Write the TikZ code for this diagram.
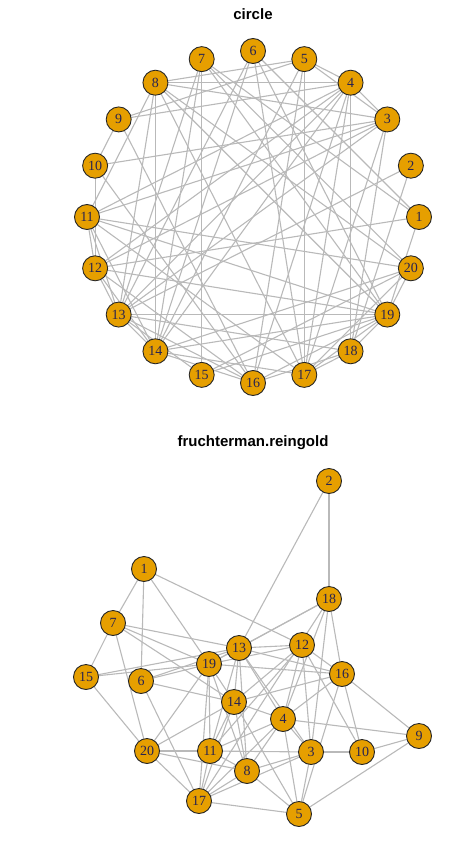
\documentclass[tikz,border=0pt]{standalone}
\usepackage{fontspec}
\setmainfont{Liberation Serif}
\newfontfamily\titlefont{Liberation Sans}
\usetikzlibrary{backgrounds}
\definecolor{vorange}{RGB}{230,159,0}
\definecolor{edgegray}{RGB}{185,185,185}
\definecolor{labelblue}{RGB}{40,35,80}
\begin{document}
\begin{tikzpicture}[x=1pt,y=-1pt,
  vtx/.style={circle,draw=black!85,line width=0.9pt,fill=vorange,minimum size=25pt,inner sep=0pt,
    font=\fontsize{14}{14}\selectfont,text=labelblue},
  edge/.style={draw=edgegray,line width=1.1pt},
  ttl/.style={font=\titlefont\bfseries\fontsize{15}{15}\selectfont,text=black}]
\useasboundingbox (0,0) rectangle (462,842);
\node[ttl] (t1) at (253,14) {circle};
\node[ttl] (t2) at (253,443) {fruchterman.reingold};
% circle layout
\foreach \i in {1,...,20} {
  \node[vtx] (c\i) at ({253+166*cos((\i-1)*18)},{217-166*sin((\i-1)*18)}) {\i};
}
% fruchterman-reingold layout
\foreach \i/\x/\y in {1/144/569,2/329/481,3/311/752,4/283/719,5/299/814,6/141/681,7/113/623,
  8/247/771,9/419/736,10/362/752,11/210/751,12/302/645,13/239/648,14/234/702,15/86/677,
  16/342/674,17/199/801,18/329/599,19/209/664,20/147/751} {
  \node[vtx] (f\i) at (\x,\y) {\i};
}
\begin{pgfonlayer}{background}
\foreach \a/\b in {1/7,1/6,1/19,1/12,
  2/18,2/13,
  18/13,18/19,18/4,18/3,18/16,18/17,
  7/15,7/20,7/13,7/19,7/14,
  15/19,15/13,15/20,
  6/19,6/13,6/14,6/17,
  12/13,12/19,12/16,12/14,12/4,12/11,12/10,12/3,
  13/19,13/14,13/11,13/8,13/4,13/16,13/3,
  19/16,19/11,19/14,19/20,19/8,19/17,
  16/14,16/9,16/10,16/4,16/5,
  14/4,14/11,14/8,14/17,14/5,14/20,
  4/9,4/3,4/5,4/11,4/17,4/8,
  9/10,9/5,
  20/11,20/17,20/8,
  11/8,11/17,11/3,
  3/10,3/5,3/8,3/17,
  8/17,8/5,
  17/5} {
  \draw[edge] (c\a.center) -- (c\b.center);
  \draw[edge] (f\a.center) -- (f\b.center);
}
\end{pgfonlayer}
\end{tikzpicture}
\end{document}
